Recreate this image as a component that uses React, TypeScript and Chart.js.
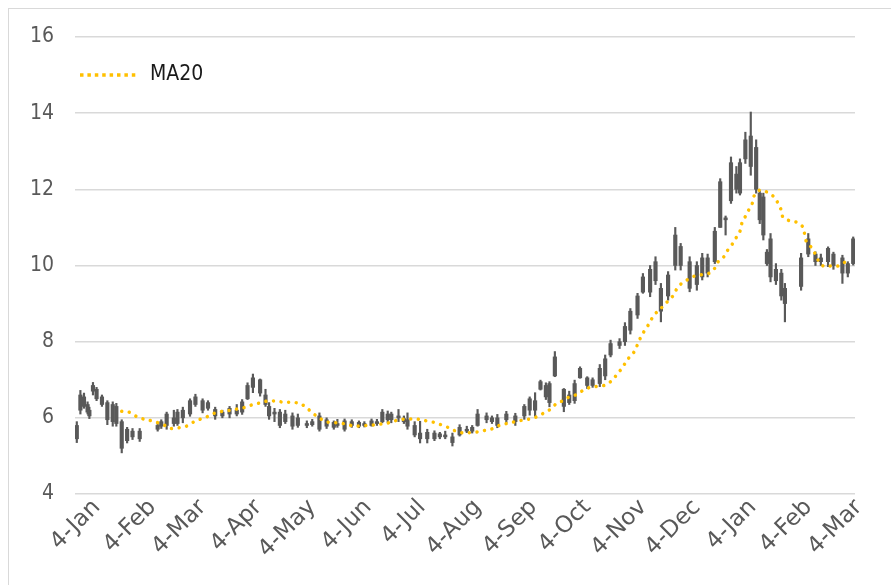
import { useEffect, useRef } from "react";
import { Chart, registerables } from "chart.js";

Chart.register(...registerables);

// x axis: calendar days counted from 4-Jan
const tickDays = [0, 31, 59, 90, 120, 151, 181, 212, 243, 273, 304, 334, 365, 396, 424];
const tickLabels = ["4-Jan", "4-Feb", "4-Mar", "4-Apr", "4-May", "4-Jun", "4-Jul", "4-Aug", "4-Sep", "4-Oct", "4-Nov", "4-Dec", "4-Jan", "4-Feb", "4-Mar"];

const candleDays = [
  0, 2, 4, 6, 7, 9, 11, 14, 17, 20, 22, 25, 28, 31, 35,
  45, 47, 50, 54, 56, 59, 63, 66, 70, 73, 77, 81, 85, 89, 92, 95, 98, 102, 105, 107, 110, 113, 116, 120, 123,
  128, 131, 135, 139, 143, 145, 149, 153, 157, 160, 164, 167, 170, 173, 175, 179, 182, 184, 188, 191, 195, 199, 202, 205, 209,
  213, 217, 220, 223, 228, 231, 234, 239, 244, 249, 252, 255, 258, 261, 263, 266, 271, 274, 277, 280, 284, 287, 291, 294, 297,
  302, 305, 308, 312, 315, 319, 322, 325, 329, 333, 336, 341, 345, 348, 351, 355, 358, 361, 364, 367, 369, 372, 375, 378, 380,
  382, 384, 386, 389, 392, 394, 403, 407, 411, 414, 418, 421, 426, 429, 432,
];
const opens = [
  5.45, 6.2, 6.55, 6.35, 6.2, 6.7, 6.75, 6.55, 6.4, 5.9, 6.3, 5.9, 5.4, 5.5, 5.65,
  5.7, 5.78, 5.8, 6.0, 5.85, 6.0, 6.1, 6.35, 6.45, 6.25, 6.22, 6.05, 6.1, 6.2, 6.15, 6.5, 6.8, 7.0, 6.6, 6.3, 6.1, 6.15, 5.9, 6.05, 5.8,
  5.85, 5.82, 5.7, 5.95, 5.75, 5.85, 5.7, 5.9, 5.78, 5.85, 5.8, 5.9, 5.9, 6.1, 5.95, 6.05, 5.98, 5.95, 5.8, 5.6, 5.45, 5.6, 5.5, 5.55, 5.5,
  5.55, 5.7, 5.65, 5.8, 6.05, 5.9, 5.8, 5.95, 5.9, 6.05, 6.2, 6.45, 6.75, 6.85, 6.4, 7.1, 6.75, 6.4, 6.45, 7.05, 7.05, 6.85, 6.9, 7.1, 7.65,
  7.9, 8.0, 8.3, 8.7, 9.3, 9.3, 9.6, 9.4, 9.2, 10.0, 10.5, 10.1, 9.5, 9.7, 10.2, 10.1, 11.0, 11.2, 11.7, 12.4, 11.9, 12.8, 13.4, 13.1, 11.9,
  11.8, 10.35, 10.7, 9.9, 9.8, 9.4, 9.45, 10.3, 10.3, 10.1, 10.45, 10.3, 10.2, 9.8, 10.05,
];
const highs = [
  5.9, 6.72, 6.65, 6.42, 6.28, 6.93, 6.8, 6.6, 6.45, 6.42, 6.38, 5.95, 5.75, 5.72, 5.72,
  5.85, 5.95, 6.15, 6.2, 6.22, 6.28, 6.5, 6.62, 6.5, 6.45, 6.28, 6.2, 6.3, 6.35, 6.48, 6.92, 7.15, 7.02, 6.75, 6.4, 6.25, 6.22, 6.2, 6.13, 6.1,
  5.92, 5.96, 6.13, 6.0, 5.92, 5.96, 5.97, 5.95, 5.92, 5.9, 5.97, 5.96, 6.22, 6.18, 6.15, 6.22, 6.05, 6.13, 5.9, 5.91, 5.7, 5.66, 5.62, 5.65, 5.6,
  5.82, 5.78, 5.8, 6.22, 6.13, 6.05, 6.09, 6.17, 6.12, 6.35, 6.55, 6.66, 6.99, 6.92, 6.95, 7.74, 6.77, 6.7, 6.99, 7.34, 7.08, 7.05, 7.4, 7.65, 8.04,
  8.08, 8.5, 8.87, 9.27, 9.79, 10.0, 10.23, 9.53, 9.84, 11.0, 10.58, 10.23, 10.1, 10.32, 10.3, 11.0, 12.28, 11.3, 12.85, 12.6, 12.8, 13.5, 14.03, 13.3, 11.95,
  11.9, 10.42, 10.84, 10.05, 9.9, 9.53, 10.32, 10.84, 10.36, 10.3, 10.49, 10.35, 10.27, 10.1, 10.75,
];
const lows = [
  5.35, 6.1, 6.25, 6.1, 5.98, 6.6, 6.45, 6.3, 5.82, 5.78, 5.78, 5.08, 5.34, 5.43, 5.38,
  5.65, 5.72, 5.7, 5.78, 5.8, 5.87, 6.04, 6.3, 6.13, 6.2, 5.96, 6.0, 6.0, 6.05, 6.09, 6.48, 6.66, 6.57, 6.3, 5.96, 5.9, 5.74, 5.85, 5.7, 5.75,
  5.74, 5.78, 5.65, 5.72, 5.7, 5.75, 5.65, 5.75, 5.74, 5.76, 5.78, 5.8, 5.87, 5.88, 5.87, 5.9, 5.85, 5.7, 5.5, 5.34, 5.34, 5.4, 5.45, 5.45, 5.26,
  5.52, 5.61, 5.6, 5.78, 5.87, 5.85, 5.74, 5.87, 5.8, 5.96, 6.07, 6.04, 6.73, 6.48, 6.29, 7.08, 6.16, 6.35, 6.38, 7.04, 6.77, 6.8, 6.82, 7.0, 7.6,
  7.82, 7.9, 8.2, 8.61, 9.27, 9.18, 9.5, 8.52, 9.09, 9.88, 9.88, 9.31, 9.35, 9.62, 9.7, 10.05, 11.0, 10.8, 11.63, 11.9, 11.85, 12.68, 12.37, 11.9, 11.1,
  10.67, 10.0, 9.57, 9.5, 9.09, 8.52, 9.35, 10.23, 10.0, 10.0, 9.97, 9.9, 9.53, 9.7, 10.01,
];
const closes = [
  5.8, 6.6, 6.3, 6.15, 6.05, 6.85, 6.5, 6.35, 5.95, 6.35, 5.85, 5.2, 5.7, 5.65, 5.45,
  5.8, 5.9, 6.1, 5.85, 6.15, 6.2, 6.45, 6.55, 6.2, 6.4, 6.05, 6.15, 6.25, 6.1, 6.42, 6.85, 7.05, 6.65, 6.35, 6.05, 6.15, 5.8, 6.1, 5.78, 6.0,
  5.8, 5.9, 6.05, 5.78, 5.88, 5.8, 5.92, 5.8, 5.88, 5.8, 5.92, 5.85, 6.15, 5.95, 6.1, 6.0, 5.9, 5.78, 5.55, 5.45, 5.62, 5.45, 5.58, 5.5, 5.35,
  5.75, 5.65, 5.75, 6.1, 5.95, 6.0, 6.0, 6.1, 6.05, 6.3, 6.5, 6.2, 6.95, 6.55, 6.9, 7.6, 6.3, 6.6, 6.9, 7.3, 6.85, 7.0, 7.3, 7.55, 7.95,
  8.0, 8.4, 8.8, 9.2, 9.7, 9.9, 10.1, 8.8, 9.75, 10.8, 10.0, 9.4, 10.0, 10.2, 9.8, 10.9, 12.2, 11.25, 12.7, 12.0, 12.7, 13.3, 12.6, 12.0, 11.2,
  10.8, 10.05, 9.7, 9.6, 9.2, 9.0, 10.2, 10.7, 10.1, 10.2, 10.1, 10.0, 9.8, 10.05, 10.7,
];

const maDays = [
  25, 29, 33, 37, 40, 44, 49, 52, 57, 61, 65, 69, 73, 77, 81, 86, 90, 94, 98, 102, 106, 111, 115, 119, 124, 128, 131, 134, 138, 142,
  146, 150, 155, 159, 163, 168, 172, 176, 181, 184, 189, 193, 198, 202, 206, 210, 214, 218, 223, 227, 231, 235, 239, 243, 248, 252, 256, 260, 264, 267,
  271, 274, 278, 282, 285, 290, 294, 298, 301, 304, 306, 309, 311, 313, 315, 318, 320, 323, 326, 329, 332, 334, 337, 340, 344, 348, 352, 355, 357, 360,
  362, 365, 367, 369, 370, 372, 374, 376, 377, 380, 384, 388, 390, 392, 393, 397, 401, 404, 405, 406, 409, 411, 413, 416, 420, 424, 428, 431,
];
const maValues = [
  6.17, 6.15, 6.04, 5.97, 5.94, 5.89, 5.8, 5.72, 5.74, 5.78, 5.89, 5.97, 6.04, 6.13, 6.17, 6.2, 6.24, 6.28, 6.35, 6.39, 6.44, 6.44, 6.41, 6.41, 6.38, 6.26, 6.13, 6.03, 5.91, 5.87,
  5.87, 5.83, 5.78, 5.8, 5.8, 5.83, 5.85, 5.91, 5.96, 5.97, 5.97, 5.93, 5.89, 5.83, 5.76, 5.67, 5.61, 5.61, 5.63, 5.67, 5.71, 5.8, 5.85, 5.89, 5.94, 5.97, 6.03, 6.13, 6.24, 6.38,
  6.46, 6.55, 6.61, 6.73, 6.79, 6.83, 6.86, 6.99, 7.17, 7.34, 7.52, 7.65, 7.82, 8.04, 8.22, 8.44, 8.61, 8.79, 8.92, 9.07, 9.22, 9.4, 9.55, 9.63, 9.73, 9.76, 9.8, 9.93, 10.11, 10.23,
  10.39, 10.58, 10.74, 10.9, 11.1, 11.29, 11.47, 11.65, 11.84, 11.98, 11.93, 11.8, 11.65, 11.45, 11.26, 11.17, 11.13, 11.01, 10.82, 10.62, 10.46, 10.29, 10.1, 9.97, 9.99, 9.99, 10.1, 10.1,
];

const seriesName = "MA20";
const FONT = '"DejaVu Sans Condensed", "DejaVu Sans", sans-serif';
const XFONT = '"DejaVu Sans", sans-serif';
const GOLD = "#FFC000";
const CANDLE = "#595959";

const legendPlugin = {
  id: "maLegend",
  afterDraw(chart: any) {
    const ctx = chart.ctx;
    const area = chart.chartArea;
    ctx.save();
    const y = area.top + 38;
    const x0 = area.left + 5;
    ctx.fillStyle = GOLD;
    for (let i = 0; i < 8; i++) {
      ctx.fillRect(x0 + i * 7.4, y - 1.75, 3.5, 3.5);
    }
    ctx.fillStyle = "#1a1a1a";
    ctx.font = `21px ${FONT}`;
    ctx.textBaseline = "middle";
    ctx.textAlign = "left";
    ctx.fillText(seriesName, x0 + 70, y);
    ctx.restore();
  },
};

export default function App() {
  const ref = useRef<HTMLCanvasElement | null>(null);

  useEffect(() => {
    if (!ref.current) return;
    const chart = new Chart(ref.current, {
      type: "bar",
      data: {
        datasets: [
          {
            type: "line",
            label: seriesName,
            data: maDays.map((d, i) => ({ x: d, y: maValues[i] })),
            borderColor: GOLD,
            borderWidth: 3.5,
            borderDash: [0.01, 7.6],
            borderCapStyle: "round",
            pointRadius: 0,
            fill: false,
            tension: 0.3,
            order: 0,
          } as any,
          {
            type: "bar",
            label: "body",
            data: candleDays.map((d, i) => ({ x: d, y: [opens[i], closes[i]] })),
            backgroundColor: CANDLE,
            barThickness: 3.5,
            grouped: false,
            order: 1,
          } as any,
          {
            type: "bar",
            label: "wick",
            data: candleDays.map((d, i) => ({ x: d, y: [lows[i], highs[i]] })),
            backgroundColor: CANDLE,
            barThickness: 1.5,
            grouped: false,
            order: 2,
          } as any,
        ],
      },
      options: {
        animation: false,
        responsive: false,
        devicePixelRatio: 1,
        layout: { padding: { left: 0, right: 36, top: 37, bottom: 0 } },
        plugins: { legend: { display: false }, tooltip: { enabled: false } },
        scales: {
          x: {
            type: "linear",
            min: -1,
            max: 433,
            offset: false,
            grid: { display: false },
            border: { display: false },
            afterBuildTicks: (scale: any) => {
              scale.ticks = tickDays.map((v) => ({ value: v }));
            },
            afterFit: (scale: any) => {
              scale.height = 91;
            },
            ticks: {
              autoSkip: false,
              maxRotation: 45,
              minRotation: 45,
              labelOffset: 20,
              padding: -8,
              color: "#595959",
              font: { family: XFONT, size: 23 },
              callback: (value: any) => {
                const i = tickDays.indexOf(Number(value));
                return i >= 0 ? tickLabels[i] : "";
              },
            },
          },
          y: {
            min: 4,
            max: 16,
            border: { display: false },
            grid: { color: "#d9d9d9", lineWidth: 1.5, drawTicks: false },
            afterFit: (scale: any) => {
              scale.width = 75;
            },
            ticks: {
              stepSize: 2,
              padding: 21,
              color: "#595959",
              font: { family: FONT, size: 21 },
            },
          },
        },
      },
      plugins: [legendPlugin],
    });
    return () => chart.destroy();
  }, []);

  return (
    <div style={{ position: "fixed", left: 0, top: 0, width: 891, height: 585, overflow: "hidden", background: "#fff" }}>
      <div
        style={{
          position: "absolute",
          left: 8,
          top: 8,
          width: 900,
          height: 600,
          borderLeft: "1px solid #d9d9d9",
          borderTop: "1px solid #d9d9d9",
        }}
      />
      <canvas ref={ref} width={891} height={585} style={{ position: "absolute", left: 0, top: 0, width: 891, height: 585 }} />
    </div>
  );
}
